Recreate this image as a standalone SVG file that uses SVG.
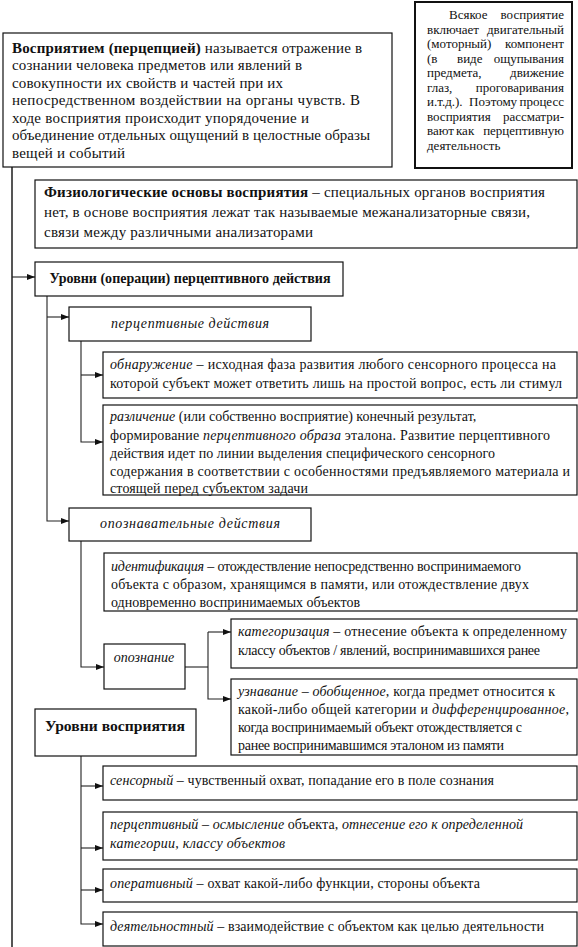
<svg xmlns="http://www.w3.org/2000/svg" width="578" height="947" viewBox="0 0 578 947">
<style>
.box{fill:#fff;stroke:#111;stroke-width:1.2}
.t{font-family:"Liberation Serif","Times New Roman",serif;font-size:14px;fill:#111}
.m{font-size:15px}
.s{font-size:13px}
.i{font-style:italic}
.b{font-weight:bold}
.c{text-anchor:middle}
.e{text-anchor:end}
.conn{fill:none;stroke:#222;stroke-width:1.1}
.main{fill:none;stroke:#555;stroke-width:2}
</style>
<defs>
<marker id="arr" viewBox="0 0 8 6" refX="8" refY="3" markerWidth="8" markerHeight="6" orient="auto" markerUnits="userSpaceOnUse">
<path d="M0,0 L8,3 L0,6 z" fill="#111"/>
</marker>
</defs>
<g id="connectors">
<path class="main" d="M12,167 V947"/>
<path class="conn" d="M12,277 H35" marker-end="url(#arr)"/>
<path class="conn" d="M47,296 V521 H69" marker-end="url(#arr)"/>
<path class="conn" d="M47,317 H69" marker-end="url(#arr)"/>
<path class="conn" d="M81,341 V442 H103" marker-end="url(#arr)"/>
<path class="conn" d="M81,375 H103" marker-end="url(#arr)"/>
<path class="conn" d="M81,541 V667 H104" marker-end="url(#arr)"/>
<path class="conn" d="M185,667 H208"/>
<path class="conn" d="M208,632 V699 H231" marker-end="url(#arr)"/>
<path class="conn" d="M208,632 H231" marker-end="url(#arr)"/>
<path class="conn" d="M81,756 V924 H103" marker-end="url(#arr)"/>
<path class="conn" d="M81,786 H103" marker-end="url(#arr)"/>
<path class="conn" d="M81,848 H103" marker-end="url(#arr)"/>
<path class="conn" d="M81,890 H103" marker-end="url(#arr)"/>
</g>
<g id="definition">
<rect class="box" x="3" y="33" width="389" height="134"/>
<text class="t m" x="12" y="52.5" textLength="350" lengthAdjust="spacing"><tspan class="b">Восприятием (перцепцией)</tspan> называется отражение в</text>
<text class="t m" x="12" y="70" textLength="290" lengthAdjust="spacing">сознании человека предметов или явлений в</text>
<text class="t m" x="12" y="87.5" textLength="271" lengthAdjust="spacing">совокупности их свойств и частей при их</text>
<text class="t m" x="12" y="105" textLength="348" lengthAdjust="spacing">непосредственном воздействии на органы чувств. В</text>
<text class="t m" x="12" y="122.5" textLength="297" lengthAdjust="spacing">ходе восприятия происходит упорядочение и</text>
<text class="t m" x="12" y="140" textLength="358" lengthAdjust="spacing">объединение отдельных ощущений в целостные образы</text>
<text class="t m" x="12" y="157.5" textLength="113" lengthAdjust="spacing">вещей и событий</text>
</g>
<g id="motor-note">
<rect class="box" x="415" y="2" width="157" height="166" style="stroke-width:2"/>
<text class="t s" y="19"><tspan x="449">Всякое</tspan><tspan x="564" class="e">восприятие</tspan></text>
<text class="t s" y="33.5"><tspan x="427">включает</tspan><tspan x="564" class="e">двигательный</tspan></text>
<text class="t s" y="48"><tspan x="427">(моторный)</tspan><tspan x="564" class="e">компонент</tspan></text>
<text class="t s" y="62.5"><tspan x="427">(в</tspan><tspan x="457">виде</tspan><tspan x="564" class="e">ощупывания</tspan></text>
<text class="t s" y="77"><tspan x="427">предмета,</tspan><tspan x="564" class="e">движение</tspan></text>
<text class="t s" y="91.5"><tspan x="427">глаз,</tspan><tspan x="564" class="e">проговаривания</tspan></text>
<text class="t s" y="106"><tspan x="427">и.т.д.).</tspan><tspan x="469">Поэтому</tspan><tspan x="564" class="e">процесс</tspan></text>
<text class="t s" y="120.5"><tspan x="427">восприятия</tspan><tspan x="564" class="e">рассматри-</tspan></text>
<text class="t s" y="135"><tspan x="427">вают</tspan><tspan x="456">как</tspan><tspan x="564" class="e">перцептивную</tspan></text>
<text class="t s" x="427" y="149.5">деятельность</text>
</g>
<g id="physiology">
<rect class="box" x="35" y="180" width="542" height="68"/>
<text class="t m" x="44" y="197" textLength="501" lengthAdjust="spacing"><tspan class="b">Физиологические основы восприятия</tspan> – специальных органов восприятия</text>
<text class="t m" x="44" y="217" textLength="486" lengthAdjust="spacing">нет, в основе восприятия лежат так называемые межанализаторные связи,</text>
<text class="t m" x="44" y="237" textLength="269" lengthAdjust="spacing">связи между различными анализаторами</text>
</g>
<g id="levels-action">
<rect class="box" x="35" y="262" width="308" height="34"/>
<text class="t m b c" x="190" y="283" textLength="281" lengthAdjust="spacingAndGlyphs">Уровни (операции) перцептивного действия</text>
</g>
<g id="perceptive-actions">
<rect class="box" x="69" y="307" width="242" height="34"/>
<text class="t i c" x="190" y="328" textLength="158" lengthAdjust="spacing">перцептивные действия</text>
</g>
<g id="detection">
<rect class="box" x="103" y="352" width="474" height="46"/>
<text class="t" x="110" y="369" textLength="446" lengthAdjust="spacing"><tspan class="i">обнаружение</tspan> – исходная фаза развития любого сенсорного процесса на</text>
<text class="t" x="110" y="388" textLength="452" lengthAdjust="spacing">которой субъект может ответить лишь на простой вопрос, есть ли стимул</text>
</g>
<g id="discrimination">
<rect class="box" x="103" y="405" width="474" height="90"/>
<text class="t" x="110" y="421"><tspan class="i">различение</tspan> (или собственно восприятие) конечный результат,</text>
<text class="t" x="110" y="439.5" textLength="440" lengthAdjust="spacing">формирование <tspan class="i">перцептивного образа</tspan> эталона. Развитие перцептивного</text>
<text class="t" x="110" y="457.5" textLength="385" lengthAdjust="spacing">действия идет по линии выделения специфического сенсорного</text>
<text class="t" x="110" y="475.5" textLength="460" lengthAdjust="spacing">содержания в соответствии с особенностями предъявляемого материала и</text>
<text class="t" x="110" y="493" textLength="198" lengthAdjust="spacing">стоящей перед субъектом задачи</text>
</g>
<g id="recognition-actions">
<rect class="box" x="69" y="508" width="242" height="33"/>
<text class="t i c" x="190" y="528" textLength="180" lengthAdjust="spacing">опознавательные действия</text>
</g>
<g id="identification">
<rect class="box" x="104" y="553" width="473" height="58"/>
<text class="t" x="111" y="571" textLength="410" lengthAdjust="spacing"><tspan class="i">идентификация</tspan> – отождествление непосредственно воспринимаемого</text>
<text class="t" x="111" y="589" textLength="418" lengthAdjust="spacing">объекта с образом, хранящимся в памяти, или отождествление двух</text>
<text class="t" x="111" y="607">одновременно воспринимаемых объектов</text>
</g>
<g id="recognition">
<rect class="box" x="104" y="644" width="81" height="45"/>
<text class="t i c" x="144" y="662">опознание</text>
</g>
<g id="categorization">
<rect class="box" x="231" y="619" width="346" height="49"/>
<text class="t" x="238" y="636" textLength="329" lengthAdjust="spacing"><tspan class="i">категоризация</tspan> – отнесение объекта к определенному</text>
<text class="t" x="238" y="655" textLength="302" lengthAdjust="spacing">классу объектов / явлений, воспринимавшихся ранее</text>
</g>
<g id="recognizing">
<rect class="box" x="231" y="679" width="346" height="76"/>
<text class="t" x="238" y="695.5" textLength="317" lengthAdjust="spacing"><tspan class="i">узнавание – обобщенное</tspan>, когда предмет относится к</text>
<text class="t" x="238" y="714" textLength="331" lengthAdjust="spacing">какой-либо общей категории и <tspan class="i">дифференцированное</tspan>,</text>
<text class="t" x="238" y="732" textLength="284" lengthAdjust="spacing">когда воспринимаемый объект отождествляется с</text>
<text class="t" x="238" y="750" textLength="266" lengthAdjust="spacing">ранее воспринимавшимся эталоном из памяти</text>
</g>
<g id="levels-perception">
<rect class="box" x="35" y="709" width="161" height="47"/>
<text class="t m b c" x="115" y="731" textLength="140" lengthAdjust="spacingAndGlyphs">Уровни восприятия</text>
</g>
<g id="sensory">
<rect class="box" x="103" y="766" width="474" height="34"/>
<text class="t" x="110" y="785" textLength="384" lengthAdjust="spacing"><tspan class="i">сенсорный</tspan> – чувственный охват, попадание его в поле сознания</text>
</g>
<g id="perceptual">
<rect class="box" x="103" y="812" width="474" height="48"/>
<text class="t" x="110" y="829" textLength="413" lengthAdjust="spacing"><tspan class="i">перцептивный – осмысление</tspan> объекта, <tspan class="i">отнесение его к определенной</tspan></text>
<text class="t i" x="110" y="848" textLength="175" lengthAdjust="spacing">категории, классу объектов</text>
</g>
<g id="operative">
<rect class="box" x="103" y="869" width="474" height="33"/>
<text class="t" x="110" y="888" textLength="370" lengthAdjust="spacing"><tspan class="i">оперативный</tspan> – охват какой-либо функции, стороны объекта</text>
</g>
<g id="activity">
<rect class="box" x="103" y="912" width="474" height="34"/>
<text class="t" x="110" y="931" textLength="434" lengthAdjust="spacing"><tspan class="i">деятельностный</tspan> – взаимодействие с объектом как целью деятельности</text>
</g>
</svg>
